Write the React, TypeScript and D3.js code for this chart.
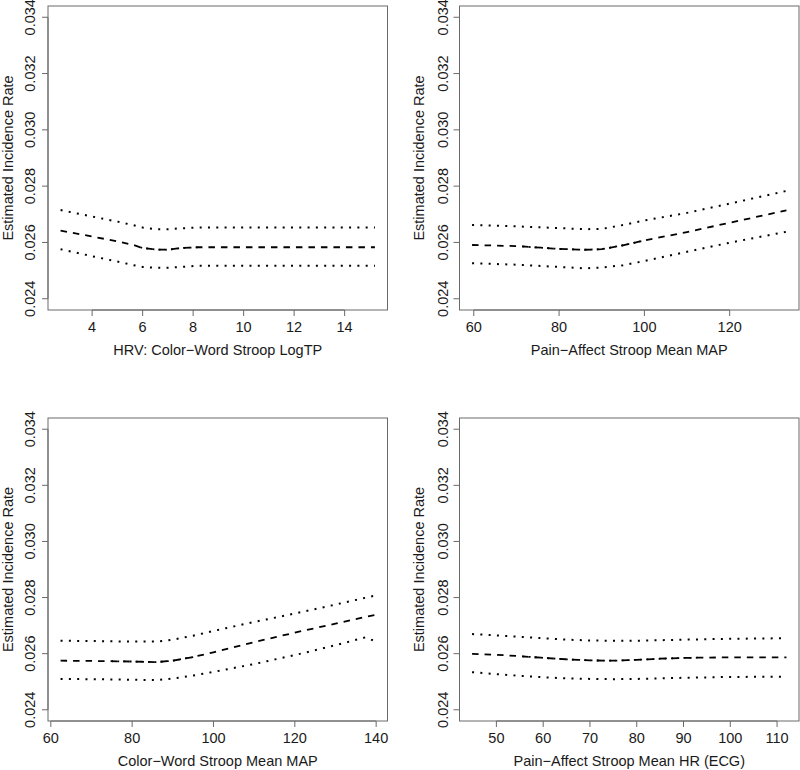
import React from "react";
import * as d3 from "d3";

// y axis shared by all four panels
const yTicks = [0.024, 0.026, 0.028, 0.030, 0.032, 0.034];
const yLim = [0.024, 0.034];
const yTitle = "Estimated Incidence Rate";

// HRV: Color-Word Stroop LogTP
const hrvX = [2.75, 4, 5, 5.6, 6.0, 6.5, 7.0, 7.5, 8.2, 10, 12, 14, 15.2];
const hrvFit = [0.02642, 0.02621, 0.02604, 0.02592, 0.02580, 0.02575, 0.02574, 0.02580, 0.02583, 0.02583, 0.02583, 0.02583, 0.02583];
const hrvUpper = [0.02715, 0.02692, 0.02674, 0.02662, 0.02653, 0.02647, 0.02647, 0.02650, 0.02653, 0.02653, 0.02653, 0.02653, 0.02653];
const hrvLower = [0.02576, 0.02551, 0.02532, 0.02520, 0.02513, 0.02510, 0.02510, 0.02513, 0.02517, 0.02517, 0.02517, 0.02517, 0.02517];
const hrvTicks = [4, 6, 8, 10, 12, 14];
const hrvDense = [5.75, 8.3]; // where the observations pile up and the fitted line overplots

// Pain-Affect Stroop Mean MAP
const paMapX = [59.6, 70, 80, 86, 90, 95, 100, 110, 120, 133.3];
const paMapFit = [0.02591, 0.02587, 0.02577, 0.02574, 0.02576, 0.02590, 0.02607, 0.02637, 0.02670, 0.02714];
const paMapUpper = [0.02662, 0.02657, 0.02651, 0.02647, 0.02648, 0.02662, 0.02678, 0.02705, 0.02738, 0.02783];
const paMapLower = [0.02526, 0.02521, 0.02513, 0.02508, 0.02511, 0.02519, 0.02534, 0.02567, 0.02599, 0.02638];
const paMapTicks = [60, 80, 100, 120];
const paMapDense = [71, 99.5];

// Color-Word Stroop Mean MAP
const cwMapX = [62.4, 70, 80, 86, 90, 95, 100, 110, 120, 130, 137.3, 139.7];
const cwMapFit = [0.02575, 0.02574, 0.02572, 0.02570, 0.02575, 0.02588, 0.02605, 0.02641, 0.02675, 0.02707, 0.02731, 0.02738];
const cwMapUpper = [0.02646, 0.02645, 0.02643, 0.02643, 0.02650, 0.02664, 0.02681, 0.02713, 0.02743, 0.02775, 0.02799, 0.02807];
const cwMapLower = [0.02510, 0.02509, 0.02507, 0.02506, 0.02511, 0.02522, 0.02535, 0.02563, 0.02595, 0.02630, 0.02658, 0.02645];
const cwMapTicks = [60, 80, 100, 120, 140];
const cwMapDense = [75, 96];

// Pain-Affect Stroop Mean HR (ECG)
const paHrX = [44.8, 50, 55, 60, 65, 70, 75, 80, 85, 90, 100, 112];
const paHrFit = [0.02599, 0.02596, 0.02591, 0.02585, 0.02580, 0.02576, 0.02575, 0.02578, 0.02582, 0.02585, 0.02587, 0.02587];
const paHrUpper = [0.02670, 0.02665, 0.02660, 0.02655, 0.02650, 0.02647, 0.02646, 0.02646, 0.02648, 0.02650, 0.02653, 0.02655];
const paHrLower = [0.02534, 0.02527, 0.02521, 0.02516, 0.02512, 0.02510, 0.02509, 0.02510, 0.02512, 0.02514, 0.02517, 0.02518];
const paHrTicks = [50, 60, 70, 80, 90, 100, 110];
const paHrDense = [55, 93];

const panels = [
  { title: "HRV: Color\u2212Word Stroop LogTP", x: hrvX, fit: hrvFit, upper: hrvUpper, lower: hrvLower, ticks: hrvTicks, dense: hrvDense },
  { title: "Pain\u2212Affect Stroop Mean MAP", x: paMapX, fit: paMapFit, upper: paMapUpper, lower: paMapLower, ticks: paMapTicks, dense: paMapDense },
  { title: "Color\u2212Word Stroop Mean MAP", x: cwMapX, fit: cwMapFit, upper: cwMapUpper, lower: cwMapLower, ticks: cwMapTicks, dense: cwMapDense },
  { title: "Pain\u2212Affect Stroop Mean HR (ECG)", x: paHrX, fit: paHrFit, upper: paHrUpper, lower: paHrLower, ticks: paHrTicks, dense: paHrDense },
];

// plot boxes, [left, right, top, bottom]
const boxes = [
  [48, 387.5, 6, 310],
  [459.5, 799, 6, 310],
  [48, 387.5, 418, 721],
  [459.5, 799, 418, 721],
];

const axisColor = "#6a6a6a";
const textColor = "#1a1a1a";
const font = "'Liberation Sans', Arial, sans-serif";
const fs = 14.5;

// R style: extend range by 4% on each side
function pad(ext: number[]) {
  const d = (ext[1] - ext[0]) * 0.04;
  return [ext[0] - d, ext[1] + d];
}

function Panel({ p, box, rightCol, id }: any) {
  const [l, r, t, b] = box;
  const x = d3.scaleLinear().domain(pad(d3.extent(p.x) as number[])).range([l, r]);
  const y = d3.scaleLinear().domain(pad(yLim)).range([b, t]);
  const line = (vals: number[]) =>
    d3.line<number>().x((_, i) => x(p.x[i])).y(d => y(d))(vals) || "";

  const yLabX = rightCol ? 448 : 35;
  const yTitleX = rightCol ? 424 : 12.7;
  const fmt = d3.format(".3f");
  const clipId = "dense" + id;

  return (
    <g>
      <defs>
        <clipPath id={clipId}>
          <rect x={x(p.dense[0])} y={t} width={x(p.dense[1]) - x(p.dense[0])} height={b - t} />
        </clipPath>
      </defs>
      <rect x={l} y={t} width={r - l} height={b - t} fill="none" stroke={axisColor} strokeWidth={1} />
      {/* y axis */}
      <line x1={l} x2={l} y1={y(yTicks[0])} y2={y(yTicks[yTicks.length - 1])} stroke={axisColor} />
      {yTicks.map(v => (
        <g key={v}>
          <line x1={l - 6} x2={l} y1={y(v)} y2={y(v)} stroke={axisColor} />
          <text transform={`translate(${yLabX},${y(v)}) rotate(-90)`} textAnchor="middle"
            fontSize={fs} fontFamily={font} fill={textColor}>{fmt(v)}</text>
        </g>
      ))}
      {/* x axis */}
      <line x1={x(p.ticks[0])} x2={x(p.ticks[p.ticks.length - 1])} y1={b} y2={b} stroke={axisColor} />
      {p.ticks.map((v: number) => (
        <g key={v}>
          <line x1={x(v)} x2={x(v)} y1={b} y2={b + 6} stroke={axisColor} />
          <text x={x(v)} y={b + 21.5} textAnchor="middle" fontSize={fs} fontFamily={font} fill={textColor}>{v}</text>
        </g>
      ))}
      <text x={(l + r) / 2} y={b + 45} textAnchor="middle" fontSize={fs} fontFamily={font} fill={textColor}>{p.title}</text>
      <text transform={`translate(${yTitleX},${(t + b) / 2}) rotate(-90)`} textAnchor="middle"
        fontSize={fs} fontFamily={font} fill={textColor}>{yTitle}</text>
      {/* curves */}
      <path d={line(p.upper)} fill="none" stroke="#000" strokeWidth={2} strokeDasharray="2 6.3" />
      <path d={line(p.fit)} fill="none" stroke="#000" strokeWidth={1.8} strokeDasharray="6.5 6" />
      <path d={line(p.fit)} fill="none" stroke="#000" strokeWidth={1.8} strokeDasharray="2 4.2"
        strokeDashoffset={-7} clipPath={`url(#${clipId})`} />
      <path d={line(p.lower)} fill="none" stroke="#000" strokeWidth={2} strokeDasharray="2 6.3" />
    </g>
  );
}

export default function App() {
  return (
    <svg width={800} height={770} style={{ position: "absolute", left: 0, top: 0, background: "#fff" }}>
      <rect width={800} height={770} fill="#fff" />
      {panels.map((p, i) => (
        <Panel key={i} id={i} p={p} box={boxes[i]} rightCol={i % 2 === 1} />
      ))}
    </svg>
  );
}
